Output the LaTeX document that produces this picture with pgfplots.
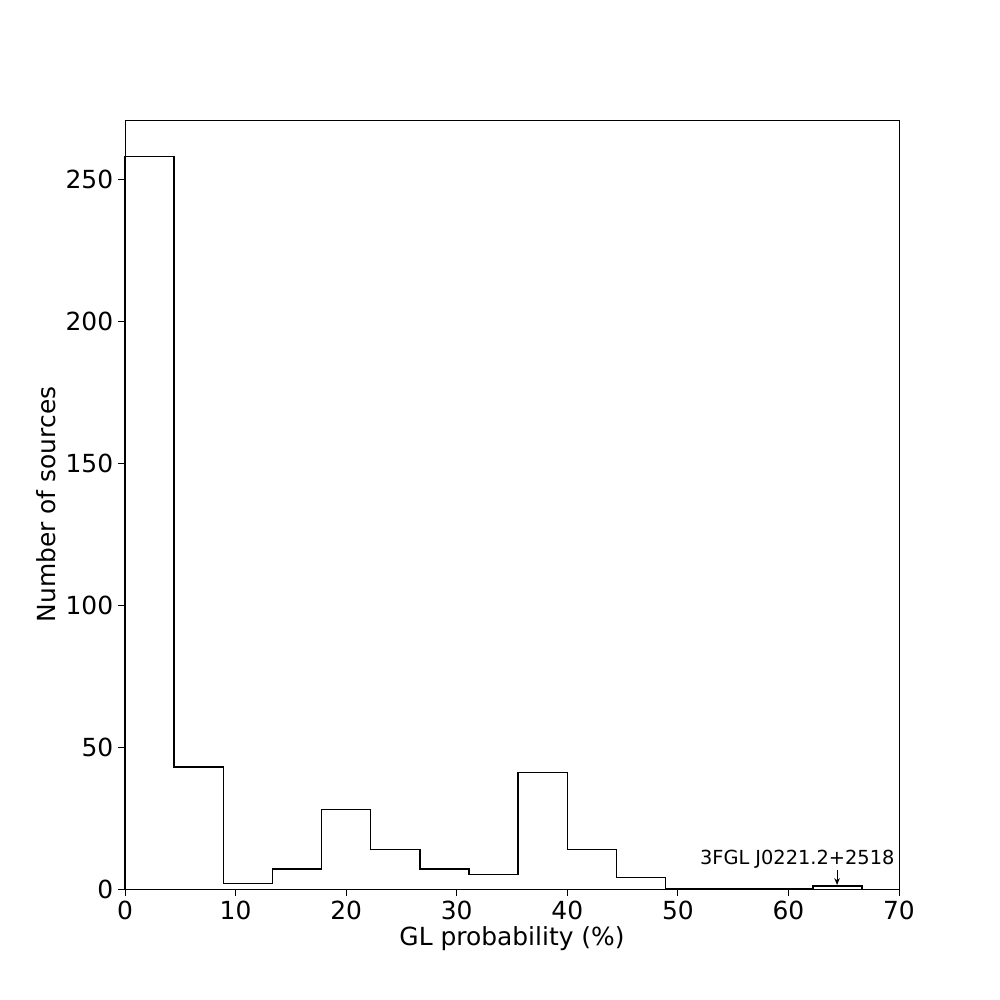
\documentclass[border=0pt]{standalone}
\usepackage{pgfplots}
\pgfplotsset{compat=1.18}
\usetikzlibrary{arrows.meta}
\usepackage{fontspec}
\setmainfont{DejaVu Sans}
\begin{document}
\begin{tikzpicture}
\begin{axis}[
  scale only axis,
  width=7.74in, height=7.69in,
  xmin=0, xmax=70, ymin=0, ymax=270.9,
  xtick={0,10,20,30,40,50,60,70},
  ytick={0,50,100,150,200,250},
  tick align=outside,
  xtick pos=bottom, ytick pos=left,
  major tick length=5pt,
  tick style={black, line width=0.6pt},
  axis line style={line width=0.6pt},
  /pgf/number format/assume math mode=true,
  ticklabel style={font=\fontsize{18}{20}\selectfont},
  label style={font=\fontsize{18}{20}\selectfont},
  xlabel={GL probability (\%)},
  ylabel={Number of sources},
  xlabel style={yshift=2pt},
  ylabel style={yshift=0pt},
  clip=false,
]
\addplot[black, line width=1pt, sharp plot] coordinates {
(0,0) (0,258)
(4.444,258) (4.444,43)
(8.889,43) (8.889,2)
(13.333,2) (13.333,7)
(17.778,7) (17.778,28)
(22.222,28) (22.222,14)
(26.667,14) (26.667,7)
(31.111,7) (31.111,5)
(35.556,5) (35.556,41)
(40.000,41) (40.000,14)
(44.444,14) (44.444,4)
(48.889,4) (48.889,0)
(53.333,0) (57.778,0)
(62.222,0) (62.222,1)
(66.667,1) (66.667,0)
};
\draw[-{Stealth[length=5pt,width=4pt]}, line width=0.7pt] (axis cs:64.4,6.8) -- (axis cs:64.4,1.4);
\node[font=\fontsize{14}{16}\selectfont, anchor=base] at (axis cs:60.8,8.6) {3FGL J0221.2+2518};
\end{axis}
\path ([shift={(-1.25in,-1.11in)}]current axis.south west) rectangle ([shift={(1.01in,1.2in)}]current axis.north east);
\end{tikzpicture}
\end{document}
